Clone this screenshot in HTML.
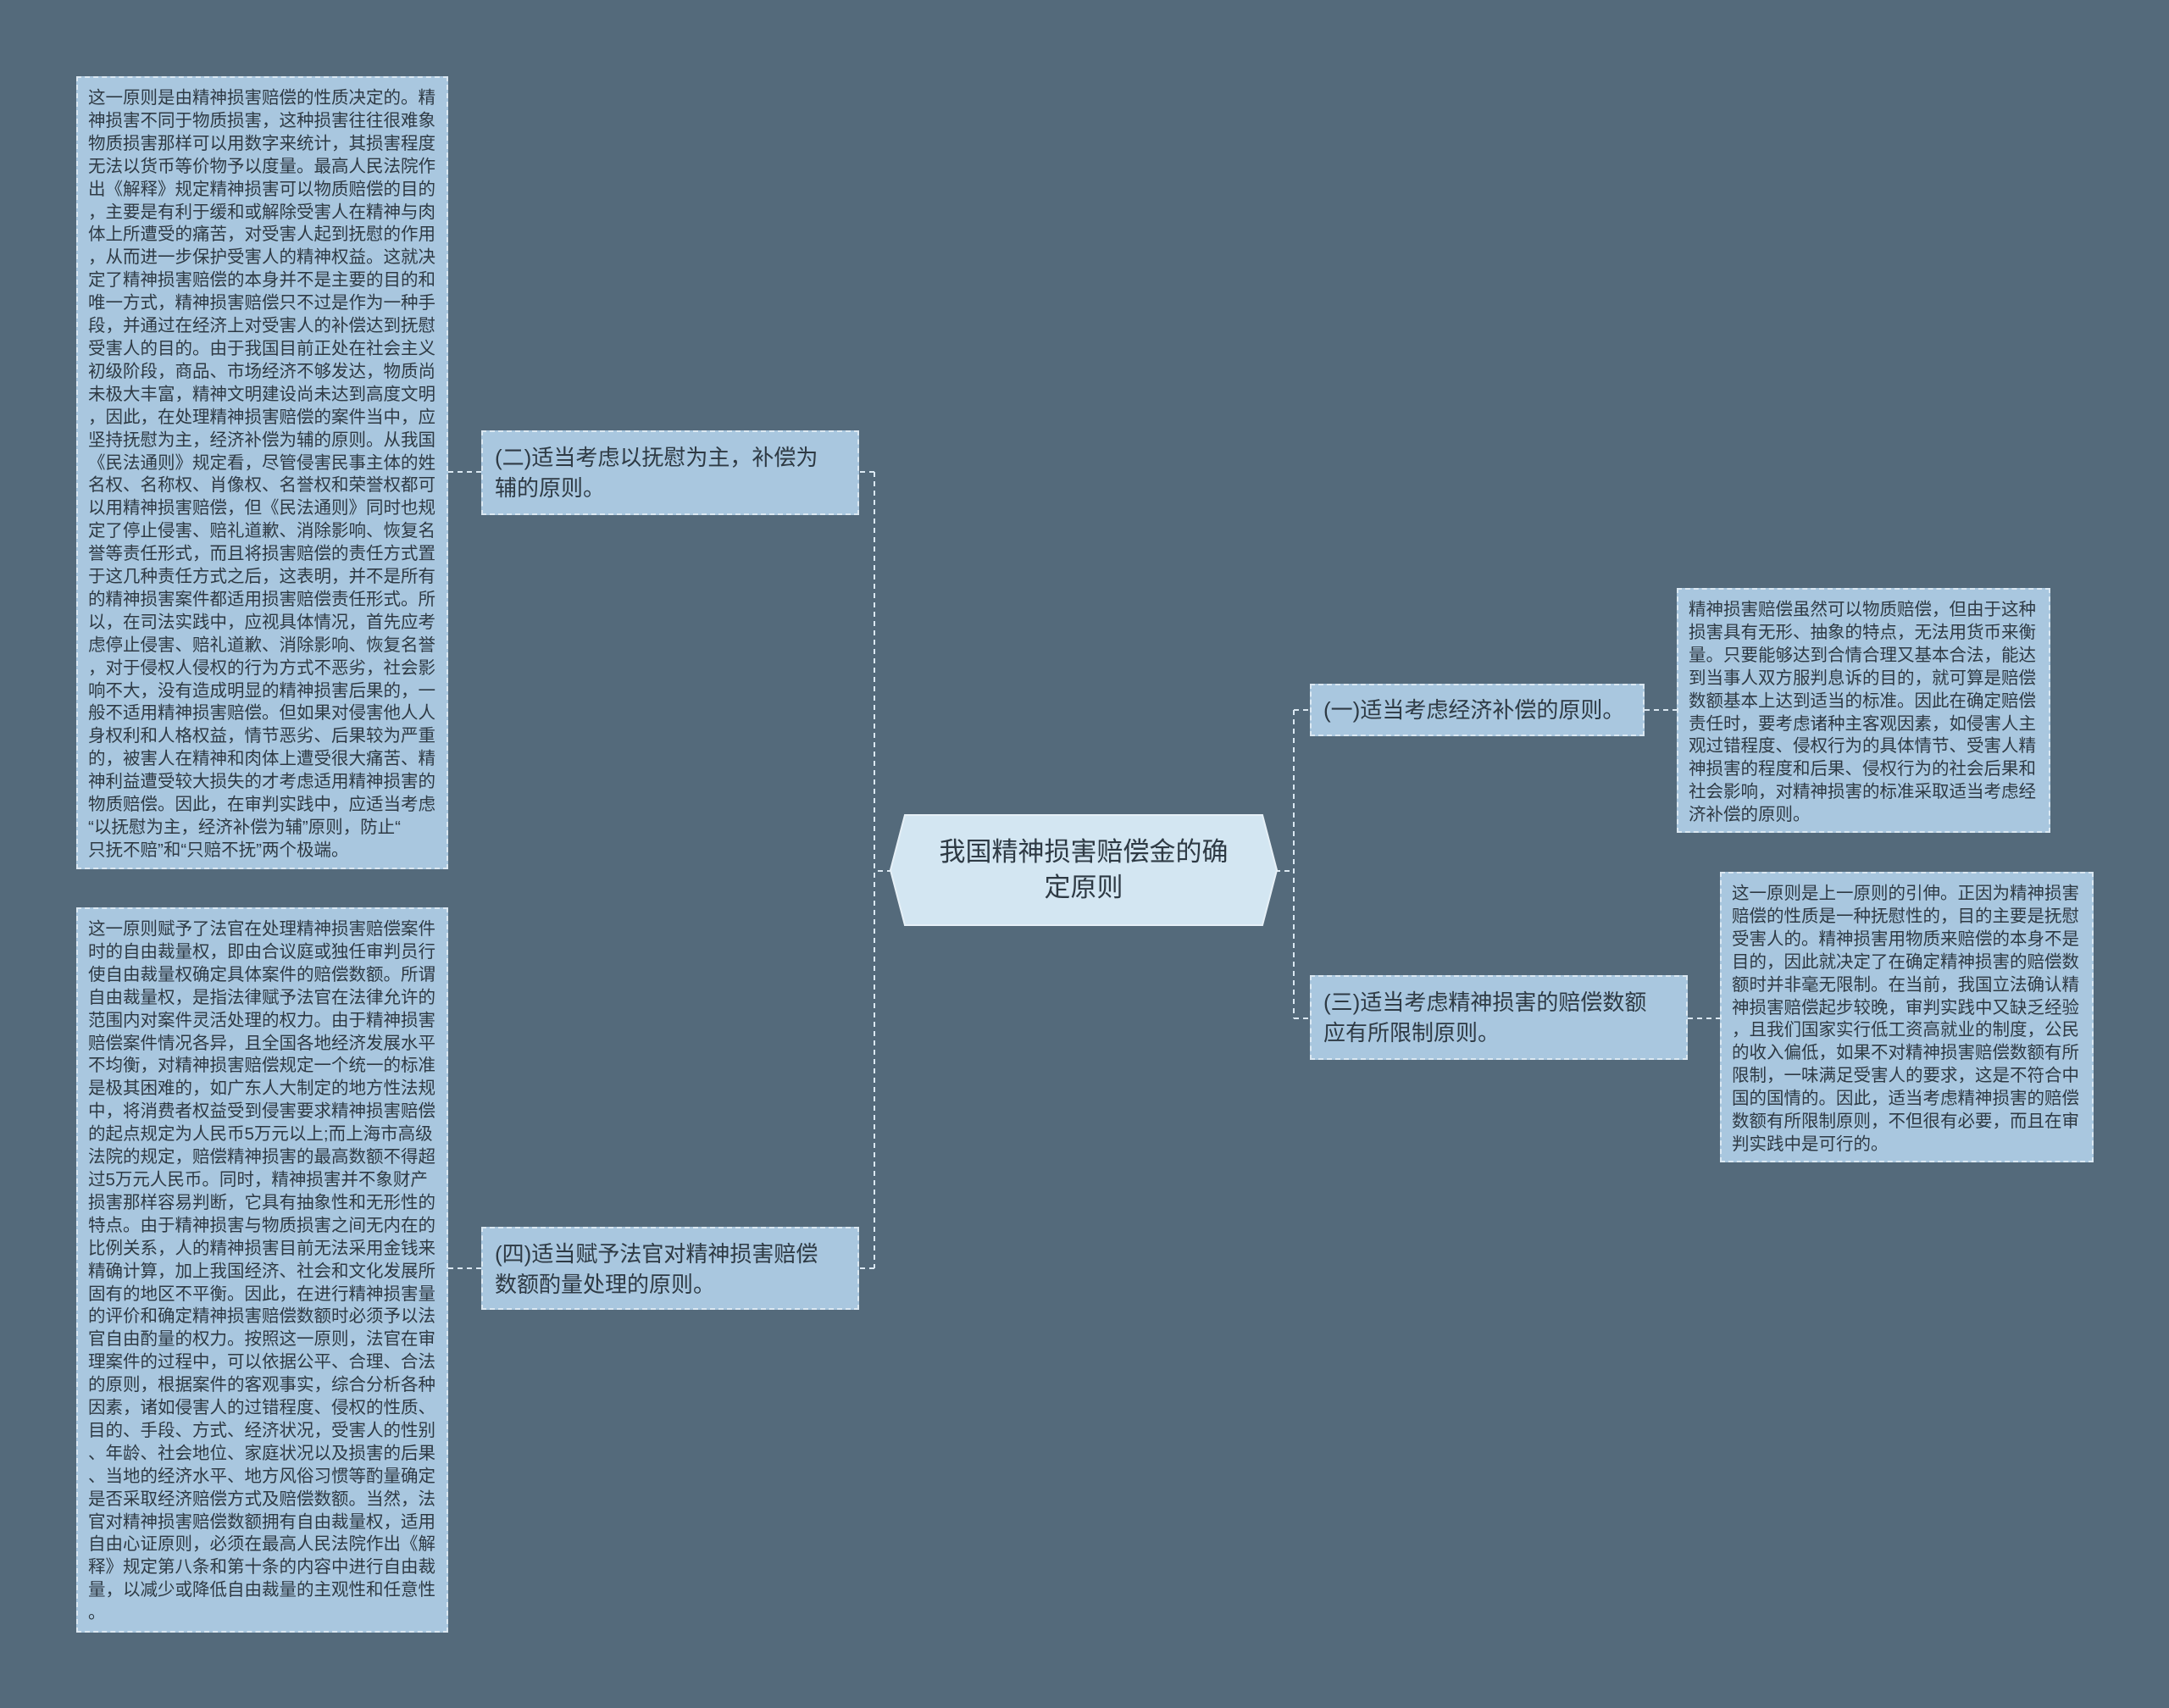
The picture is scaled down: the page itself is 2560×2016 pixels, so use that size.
<!DOCTYPE html>
<html><head><meta charset="utf-8">
<style>
html,body{margin:0;padding:0;}
body{width:2560px;height:2016px;background:#546a7b;position:relative;overflow:hidden;font-family:"Liberation Sans","Noto Sans CJK SC",sans-serif;color:#2e3a44;}
.box{position:absolute;box-sizing:border-box;background:#a9c7df;border:2px dashed #dbe8f2;}
.txt{font-size:20.5px;line-height:26.9px;white-space:nowrap;padding:11px 0 0 12px;}
.br{font-size:26px;line-height:36px;padding:12px 14px;white-space:nowrap;}
svg{position:absolute;left:0;top:0;}
</style></head><body>
<svg width="2560" height="2016">
<g stroke="#dbe8f2" stroke-width="2" stroke-dasharray="6,5" fill="none">
<path d="M1053 1028 H1032 M1032 557 V1497 M1032 557 H1014 M1032 1497 H1014"/>
<path d="M529 557 H568 M529 1497 H568"/>
<path d="M1505 1028 H1527 M1527 838 V1202 M1527 838 H1546 M1527 1202 H1546"/>
<path d="M1941 838 H1979 M1992 1202 H2030"/>
</g>
<polygon points="1068,962 1490,962 1507,1027 1490,1092 1068,1092 1051,1027" fill="#d3e6f2" stroke="#e6f0f7" stroke-width="2"/>
</svg>
<div style="position:absolute;left:1053px;top:960px;width:452px;height:134px;display:flex;align-items:center;justify-content:center;text-align:center;font-size:31px;line-height:42px;color:#2e3a44;">我国精神损害赔偿金的确<br>定原则</div>

<div class="box txt" style="left:90px;top:90px;width:439px;height:936px;">这一原则是由精神损害赔偿的性质决定的。精<br>神损害不同于物质损害，这种损害往往很难象<br>物质损害那样可以用数字来统计，其损害程度<br>无法以货币等价物予以度量。最高人民法院作<br>出《解释》规定精神损害可以物质赔偿的目的<br>，主要是有利于缓和或解除受害人在精神与肉<br>体上所遭受的痛苦，对受害人起到抚慰的作用<br>，从而进一步保护受害人的精神权益。这就决<br>定了精神损害赔偿的本身并不是主要的目的和<br>唯一方式，精神损害赔偿只不过是作为一种手<br>段，并通过在经济上对受害人的补偿达到抚慰<br>受害人的目的。由于我国目前正处在社会主义<br>初级阶段，商品、市场经济不够发达，物质尚<br>未极大丰富，精神文明建设尚未达到高度文明<br>，因此，在处理精神损害赔偿的案件当中，应<br>坚持抚慰为主，经济补偿为辅的原则。从我国<br>《民法通则》规定看，尽管侵害民事主体的姓<br>名权、名称权、肖像权、名誉权和荣誉权都可<br>以用精神损害赔偿，但《民法通则》同时也规<br>定了停止侵害、赔礼道歉、消除影响、恢复名<br>誉等责任形式，而且将损害赔偿的责任方式置<br>于这几种责任方式之后，这表明，并不是所有<br>的精神损害案件都适用损害赔偿责任形式。所<br>以，在司法实践中，应视具体情况，首先应考<br>虑停止侵害、赔礼道歉、消除影响、恢复名誉<br>，对于侵权人侵权的行为方式不恶劣，社会影<br>响不大，没有造成明显的精神损害后果的，一<br>般不适用精神损害赔偿。但如果对侵害他人人<br>身权利和人格权益，情节恶劣、后果较为严重<br>的，被害人在精神和肉体上遭受很大痛苦、精<br>神利益遭受较大损失的才考虑适用精神损害的<br>物质赔偿。因此，在审判实践中，应适当考虑<br>“以抚慰为主，经济补偿为辅”原则，防止“<br>只抚不赔”和“只赔不抚”两个极端。</div>

<div class="box txt" style="left:90px;top:1071px;width:439px;height:856px;">这一原则赋予了法官在处理精神损害赔偿案件<br>时的自由裁量权，即由合议庭或独任审判员行<br>使自由裁量权确定具体案件的赔偿数额。所谓<br>自由裁量权，是指法律赋予法官在法律允许的<br>范围内对案件灵活处理的权力。由于精神损害<br>赔偿案件情况各异，且全国各地经济发展水平<br>不均衡，对精神损害赔偿规定一个统一的标准<br>是极其困难的，如广东人大制定的地方性法规<br>中，将消费者权益受到侵害要求精神损害赔偿<br>的起点规定为人民币5万元以上;而上海市高级<br>法院的规定，赔偿精神损害的最高数额不得超<br>过5万元人民币。同时，精神损害并不象财产<br>损害那样容易判断，它具有抽象性和无形性的<br>特点。由于精神损害与物质损害之间无内在的<br>比例关系，人的精神损害目前无法采用金钱来<br>精确计算，加上我国经济、社会和文化发展所<br>固有的地区不平衡。因此，在进行精神损害量<br>的评价和确定精神损害赔偿数额时必须予以法<br>官自由酌量的权力。按照这一原则，法官在审<br>理案件的过程中，可以依据公平、合理、合法<br>的原则，根据案件的客观事实，综合分析各种<br>因素，诸如侵害人的过错程度、侵权的性质、<br>目的、手段、方式、经济状况，受害人的性别<br>、年龄、社会地位、家庭状况以及损害的后果<br>、当地的经济水平、地方风俗习惯等酌量确定<br>是否采取经济赔偿方式及赔偿数额。当然，法<br>官对精神损害赔偿数额拥有自由裁量权，适用<br>自由心证原则，必须在最高人民法院作出《解<br>释》规定第八条和第十条的内容中进行自由裁<br>量，以减少或降低自由裁量的主观性和任意性<br>。</div>

<div class="box br" style="left:568px;top:508px;width:446px;height:100px;">(二)适当考虑以抚慰为主，补偿为<br>辅的原则。</div>
<div class="box br" style="left:568px;top:1448px;width:446px;height:98px;">(四)适当赋予法官对精神损害赔偿<br>数额酌量处理的原则。</div>
<div class="box br" style="left:1546px;top:807px;width:395px;height:62px;padding-top:11px;">(一)适当考虑经济补偿的原则。</div>
<div class="box br" style="left:1546px;top:1151px;width:446px;height:100px;">(三)适当考虑精神损害的赔偿数额<br>应有所限制原则。</div>

<div class="box txt" style="left:1979px;top:694px;width:441px;height:289px;">精神损害赔偿虽然可以物质赔偿，但由于这种<br>损害具有无形、抽象的特点，无法用货币来衡<br>量。只要能够达到合情合理又基本合法，能达<br>到当事人双方服判息诉的目的，就可算是赔偿<br>数额基本上达到适当的标准。因此在确定赔偿<br>责任时，要考虑诸种主客观因素，如侵害人主<br>观过错程度、侵权行为的具体情节、受害人精<br>神损害的程度和后果、侵权行为的社会后果和<br>社会影响，对精神损害的标准采取适当考虑经<br>济补偿的原则。</div>

<div class="box txt" style="left:2030px;top:1029px;width:441px;height:343px;">这一原则是上一原则的引伸。正因为精神损害<br>赔偿的性质是一种抚慰性的，目的主要是抚慰<br>受害人的。精神损害用物质来赔偿的本身不是<br>目的，因此就决定了在确定精神损害的赔偿数<br>额时并非毫无限制。在当前，我国立法确认精<br>神损害赔偿起步较晚，审判实践中又缺乏经验<br>，且我们国家实行低工资高就业的制度，公民<br>的收入偏低，如果不对精神损害赔偿数额有所<br>限制，一味满足受害人的要求，这是不符合中<br>国的国情的。因此，适当考虑精神损害的赔偿<br>数额有所限制原则，不但很有必要，而且在审<br>判实践中是可行的。</div>
</body></html>
